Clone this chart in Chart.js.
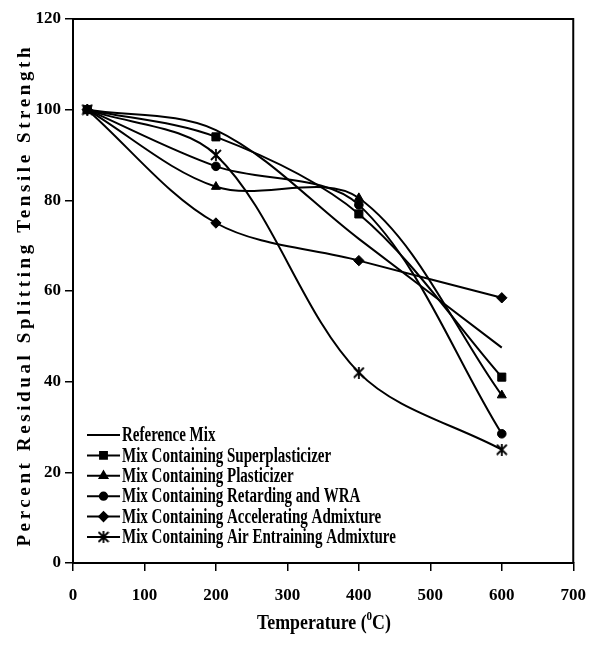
<!DOCTYPE html>
<html>
<head>
<meta charset="utf-8">
<style>
html,body{margin:0;padding:0;background:#fff;}
canvas{display:block;}
</style>
<script src="https://cdn.jsdelivr.net/npm/chart.js@4/dist/chart.umd.min.js"></script>
</head>
<body>
<canvas id="c" width="600" height="650"></canvas>
<script>
// ---- data ----
const temperatures = [20, 200, 400, 600];
const referenceMix = [100, 95.5, 71.5, 47.5];
const superplasticizer = [100, 94, 77, 41];
const plasticizer = [100, 83, 80.5, 37];
const retardingWRA = [100, 87.5, 79, 28.5];
const accelerating = [100, 75, 66.7, 58.5];
const airEntraining = [100, 90, 42, 25];
const seriesNames = [
  'Reference Mix',
  'Mix Containing Superplasticizer',
  'Mix Containing Plasticizer',
  'Mix Containing Retarding and WRA',
  'Mix Containing Accelerating Admixture',
  'Mix Containing Air Entraining Admixture'
];
const xTitle = 'Temperature (';
const xTitleSup = '0';
const xTitleEnd = 'C)';
const yTitle = 'Percent Residual Splitting Tensile Strength';

const FONT = "'Liberation Serif', 'Times New Roman', serif";

// asterisk marker
const star = document.createElement('canvas');
star.width = 12; star.height = 12;
(function(){
  const g = star.getContext('2d');
  g.strokeStyle = '#000'; g.lineWidth = 1.8;
  g.beginPath();
  g.moveTo(1,1); g.lineTo(11,11);
  g.moveTo(11,1); g.lineTo(1,11);
  g.moveTo(6,0); g.lineTo(6,12);
  g.stroke();
})();

const seriesValues = [referenceMix, superplasticizer, plasticizer, retardingWRA, accelerating, airEntraining];
const styles = [
  {pointStyle:'circle', r:0},
  {pointStyle:'rect', r:5.7},
  {pointStyle:'triangle', r:5.2},
  {pointStyle:'circle', r:4.3},
  {pointStyle:'rectRot', r:5.2},
  {pointStyle:star, r:6}
];

const datasets = seriesValues.map((vals, i) => ({
  label: seriesNames[i],
  data: temperatures.map((t, j) => ({x: t, y: vals[j]})),
  borderColor: '#000',
  backgroundColor: '#000',
  borderWidth: 2,
  tension: 0.33,
  pointStyle: styles[i].pointStyle,
  pointRadius: styles[i].r,
  pointBackgroundColor: '#000',
  pointBorderColor: '#000',
  pointBorderWidth: 1,
  fill: false
}));

const decor = {
  id: 'decor',
  afterDraw(chart) {
    const ctx = chart.ctx;
    const a = chart.chartArea;
    ctx.save();
    // plot border (top & right)
    ctx.strokeStyle = '#000';
    ctx.lineWidth = 2;
    ctx.beginPath();
    ctx.moveTo(a.left, a.top);
    ctx.lineTo(a.right, a.top);
    ctx.lineTo(a.right, a.bottom);
    ctx.stroke();

    // legend
    const startY = 435, step = 20.4;
    datasets.forEach((ds, i) => {
      const y = startY + i * step;
      ctx.strokeStyle = '#000';
      ctx.lineWidth = 2;
      ctx.beginPath();
      ctx.moveTo(87, y); ctx.lineTo(120, y);
      ctx.stroke();
      if (styles[i].r > 0) {
        ctx.fillStyle = '#000';
        Chart.helpers.drawPoint(ctx, {pointStyle: styles[i].pointStyle, radius: styles[i].r * 0.85, rotation: 0, borderWidth: 1}, 103.5, y);
      }
      ctx.save();
      ctx.fillStyle = '#000';
      ctx.font = 'bold 20px ' + FONT;
      ctx.textBaseline = 'middle';
      ctx.textAlign = 'left';
      ctx.translate(122, y + 1);
      ctx.scale(0.75, 1);
      ctx.fillText(ds.label, 0, 0);
      ctx.restore();
    });

    // y title
    ctx.save();
    ctx.fillStyle = '#000';
    ctx.font = 'bold 19px ' + FONT;
    ctx.letterSpacing = '3.6px';
    ctx.textBaseline = 'middle';
    ctx.textAlign = 'left';
    const w = ctx.measureText(yTitle).width - 3.6;
    ctx.translate(25, 297);
    ctx.rotate(-Math.PI / 2);
    ctx.fillText(yTitle, -w / 2, 0);
    ctx.restore();

    // x title
    ctx.save();
    ctx.fillStyle = '#000';
    ctx.textBaseline = 'alphabetic';
    ctx.textAlign = 'left';
    const big = 'bold 21px ' + FONT, small = 'bold 13px ' + FONT;
    ctx.font = big;
    const w1 = ctx.measureText(xTitle).width;
    const w3 = ctx.measureText(xTitleEnd).width;
    ctx.font = small;
    const w2 = ctx.measureText(xTitleSup).width;
    const sx = 0.85;
    const total = (w1 + w2 + w3) * sx;
    ctx.translate(324 - total / 2, 629);
    ctx.scale(sx, 1);
    ctx.font = big;
    ctx.fillText(xTitle, 0, 0);
    ctx.font = small;
    ctx.fillText(xTitleSup, w1, -9);
    ctx.font = big;
    ctx.fillText(xTitleEnd, w1 + w2, 0);
    ctx.restore();

    ctx.restore();
  }
};

new Chart(document.getElementById('c'), {
  type: 'line',
  data: { datasets },
  plugins: [decor],
  options: {
    responsive: false,
    animation: false,
    layout: { padding: { top: 19, right: 22, left: 0, bottom: 0 } },
    plugins: { legend: { display: false }, tooltip: { enabled: false } },
    scales: {
      x: {
        type: 'linear', min: 0, max: 700,
        ticks: { stepSize: 100, color: '#000', font: { family: FONT, size: 17, weight: 'bold' }, padding: 14, maxRotation: 0 },
        grid: { drawOnChartArea: false, tickLength: 8, color: '#000', lineWidth: 1.5 },
        border: { color: '#000', width: 2 },
        afterFit(s) { s.height = 87; }
      },
      y: {
        min: 0, max: 120,
        ticks: { stepSize: 20, color: '#000', font: { family: FONT, size: 17, weight: 'bold' }, padding: 4 },
        grid: { drawOnChartArea: false, tickLength: 8, color: '#000', lineWidth: 1.5 },
        border: { color: '#000', width: 2 },
        afterFit(s) { s.width = 73; }
      }
    }
  }
});
</script>
</body>
</html>
